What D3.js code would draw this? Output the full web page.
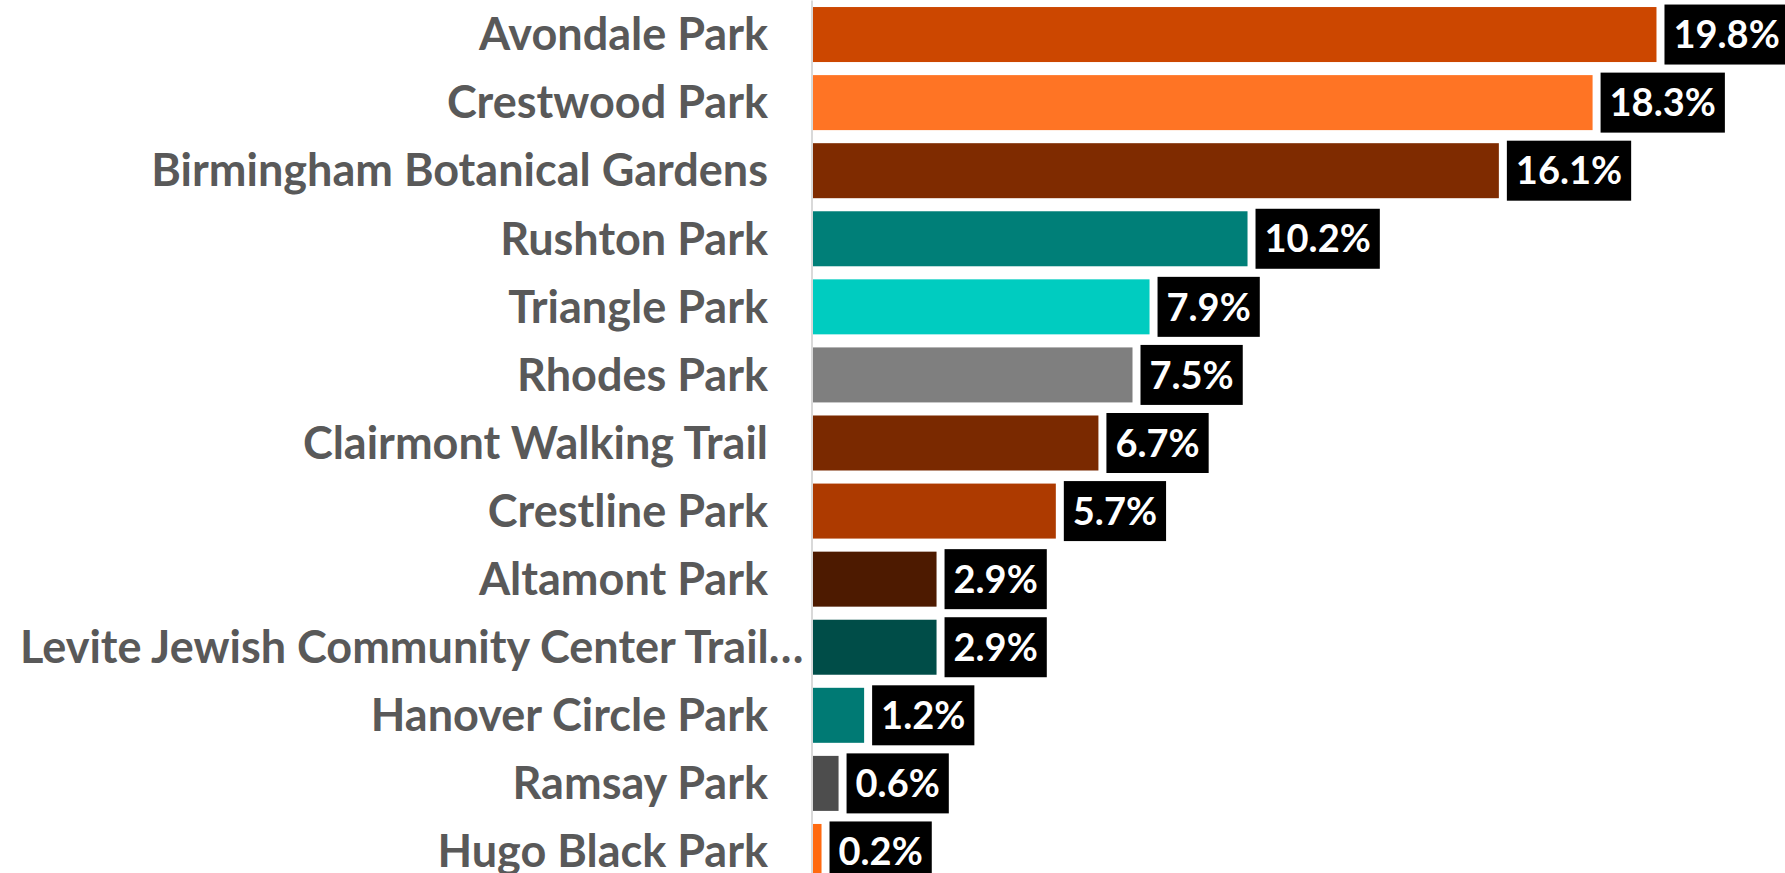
<!DOCTYPE html>
<html>
<head>
<meta charset="utf-8">
<script src="https://cdn.jsdelivr.net/npm/d3@7"></script>
<style>
  body { margin: 0; background: #fff; overflow: hidden; }
  svg { display: block; font-family: Lato, "Open Sans", sans-serif; font-weight: 700; }
</style>
</head>
<body>
<svg id="chart"></svg>
<script>

// park names, top to bottom
const parks = [
  'Avondale Park',
  'Crestwood Park',
  'Birmingham Botanical Gardens',
  'Rushton Park',
  'Triangle Park',
  'Rhodes Park',
  'Clairmont Walking Trail',
  'Crestline Park',
  'Altamont Park',
  'Levite Jewish Community Center Trail\u2026',
  'Hanover Circle Park',
  'Ramsay Park',
  'Hugo Black Park'
];

// share of visits (%)
const shares = [19.8, 18.3, 16.1, 10.2, 7.9, 7.5, 6.7, 5.7, 2.9, 2.9, 1.2, 0.6, 0.2];

const barColors = [
  '#CC4700', '#FF7424', '#7F2B00', '#007F78', '#00CCC0', '#7F7F7F', '#7A2900',
  '#AD3A00', '#4D1A00', '#004D48', '#007A74', '#4D4D4D', '#FF6A10'
];

class BarChart {

  constructor(_config, _data) {
    this.config = {
      parentElement: _config.parentElement,
      containerWidth: _config.containerWidth || 1785,
      containerHeight: _config.containerHeight || 873,
      margin: { top: 0.5, left: 813, right: 0 }
    }
    this.data = _data;
    this.initVis();
  }

  initVis() {
    let vis = this;

    vis.svg = d3.select(vis.config.parentElement)
      .attr('width', vis.config.containerWidth)
      .attr('height', vis.config.containerHeight);

    vis.chart = vis.svg.append('g')
      .attr('transform', `translate(${vis.config.margin.left}, ${vis.config.margin.top})`);

    // 42.6 px for every percent
    vis.x = d3.scaleLinear()
      .domain([0, 20])
      .range([0, 852]);

    vis.y = d3.scaleBand()
      .domain(vis.data.map(d => d.name))
      .range([0, 885])
      .paddingInner(0.192)
      .paddingOuter(0.096);

    vis.updateVis();
  }

  updateVis() {
    let vis = this;

    // category labels
    vis.chart.selectAll('.cat')
      .data(vis.data)
      .enter()
      .append('text')
      .attr('class', 'cat')
      .attr('x', -45)
      .attr('y', d => vis.y(d.name) + vis.y.bandwidth() / 2)
      .attr('dy', '0.35em')
      .attr('text-anchor', 'end')
      .attr('fill', '#595959')
      .style('font-size', '45px')
      .text(d => d.name)
      .each(function() {
        // long label gets clipped on the left in the original, so it starts at the edge
        let w = this.getComputedTextLength();
        if (w > vis.config.margin.left - 45 - 20) {
          d3.select(this).attr('text-anchor', 'start').attr('x', 20 - vis.config.margin.left);
        }
      });

    vis.chart.selectAll('.bar')
      .data(vis.data)
      .enter()
      .append('rect')
      .attr('class', 'bar')
      .attr('x', 0)
      .attr('y', d => vis.y(d.name))
      .attr('width', d => vis.x(d.value))
      .attr('height', vis.y.bandwidth())
      .attr('fill', d => d.color);

    // axis line
    vis.chart.append('line')
      .attr('x1', -1).attr('x2', -1)
      .attr('y1', 0).attr('y2', vis.config.containerHeight)
      .attr('stroke', '#d9d9d9')
      .attr('stroke-width', 2);

    // value labels in black boxes
    let lab = vis.chart.selectAll('.lab')
      .data(vis.data)
      .enter()
      .append('g')
      .attr('class', 'lab')
      .attr('transform', d => `translate(${vis.x(d.value) + 8}, ${vis.y(d.name) + vis.y.bandwidth() / 2})`);

    lab.append('rect')
      .attr('fill', '#000');

    lab.append('text')
      .attr('x', 9)
      .attr('dy', '0.36em')
      .attr('fill', '#fff')
      .style('font-size', '38px')
      .text(d => d.value.toFixed(1) + '%');

    lab.each(function() {
      let g = d3.select(this);
      let w = g.select('text').node().getComputedTextLength();
      g.select('rect')
        .attr('x', 0)
        .attr('y', -30)
        .attr('width', w + 18)
        .attr('height', 60);
    });
  }
}

const data = parks.map((p, i) => ({ name: p, value: shares[i], color: barColors[i] }));

let chart = new BarChart({ parentElement: '#chart' }, data);

</script>
</body>
</html>
